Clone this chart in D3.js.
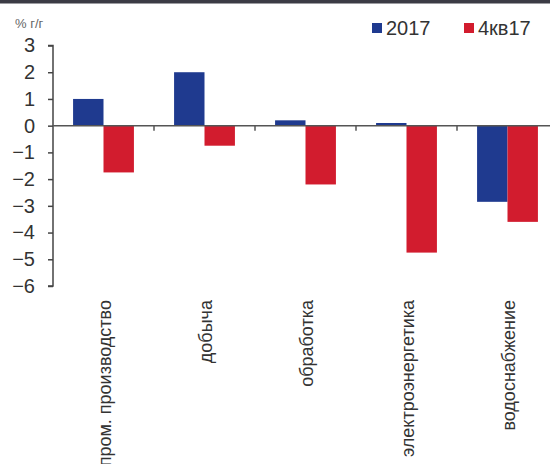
<!DOCTYPE html>
<html>
<head>
<meta charset="utf-8">
<script src="https://cdn.jsdelivr.net/npm/d3@7"></script>
<style>
  html, body { margin: 0; padding: 0; background: #fff; }
  svg { display: block; font-family: "Liberation Sans", Arial, sans-serif; }
</style>
</head>
<body>
<svg id="chart" width="550" height="464"></svg>
<script>
// Industrial production growth, % y/y
const categories = ["пром. производство", "добыча", "обработка", "электроэнергетика", "водоснабжение"];
const seriesNames = ["2017", "4кв17"];
const values2017 = [1.0, 2.0, 0.2, 0.1, -2.85];
const valuesQ4 = [-1.75, -0.75, -2.2, -4.75, -3.6];
const yTicks = [3, 2, 1, 0, -1, -2, -3, -4, -5, -6];
const unitLabel = "% г/г";

const colors = ["#1f3a8f", "#d21c2e"];
const series = [values2017, valuesQ4];

const svg = d3.select("#chart");

// frame rule along the top edge
svg.append("rect").attr("x", 0).attr("y", 0).attr("width", 550).attr("height", 3.5)
  .attr("fill", "#3b3b45");

const x = d3.scaleBand().domain(categories).range([53, 558]).paddingInner(0).paddingOuter(0);
const inner = d3.scaleBand().domain(seriesNames).range([0, x.bandwidth()]).paddingInner(0).paddingOuter(0.66);
const y = d3.scaleLinear().domain([-6, 3]).range([286, 45.5]);

// bars
seriesNames.forEach((name, si) => {
  svg.append("g").selectAll("rect")
    .data(categories.map((c, i) => ({ c, v: series[si][i] })))
    .join("rect")
    .attr("x", d => x(d.c) + inner(name))
    .attr("width", inner.bandwidth())
    .attr("y", d => y(Math.max(0, d.v)))
    .attr("height", d => Math.abs(y(d.v) - y(0)))
    .attr("fill", colors[si]);
});

// y axis
const yAxis = d3.axisLeft(y).tickValues(yTicks).tickSize(5).tickPadding(13).tickFormat(d3.format("d"));
const gy = svg.append("g").attr("transform", "translate(53,0)").call(yAxis);
gy.select(".domain").attr("stroke", "#444").attr("stroke-width", 1.5).attr("d", "M-5,45.5H0V286H-5");
gy.selectAll(".tick line").attr("stroke", "#444").attr("stroke-width", 1.5);
gy.selectAll(".tick text").attr("fill", "#333").attr("font-size", 20)
  .attr("font-family", "Liberation Sans, Arial, sans-serif");

// zero line with category separators
const xAxis = d3.axisBottom(x).tickSize(0).tickFormat("");
const gx = svg.append("g").attr("transform", `translate(0,${y(0)})`).call(xAxis);
gx.select(".domain").attr("stroke", "#555").attr("stroke-width", 1.5).attr("d", "M53,0H550");
gx.selectAll(".tick").remove();
gx.selectAll(".sep")
  .data(categories.slice(1))
  .join("line")
  .attr("class", "sep")
  .attr("x1", d => x(d)).attr("x2", d => x(d))
  .attr("y1", 0).attr("y2", 5)
  .attr("stroke", "#555").attr("stroke-width", 1.5);

// rotated category labels
svg.append("g").selectAll("text")
  .data(categories)
  .join("text")
  .attr("transform", d => `translate(${x(d) + x.bandwidth() / 2 + 1},300) rotate(-90)`)
  .attr("text-anchor", "end")
  .attr("dy", "0.35em")
  .attr("font-size", 18)
  .attr("fill", "#333")
  .text(d => d);

// unit label
svg.append("text").attr("x", 15).attr("y", 28).attr("font-size", 13).attr("fill", "#666")
  .text(unitLabel);

// legend
const legend = svg.append("g");
const legendX = [372, 464];
seriesNames.forEach((name, i) => {
  legend.append("rect").attr("x", legendX[i]).attr("y", 23).attr("width", 10).attr("height", 10)
    .attr("fill", colors[i]);
  legend.append("text").attr("x", legendX[i] + 14).attr("y", 35).attr("font-size", 20)
    .attr("fill", "#333").text(name);
});
</script>
</body>
</html>
